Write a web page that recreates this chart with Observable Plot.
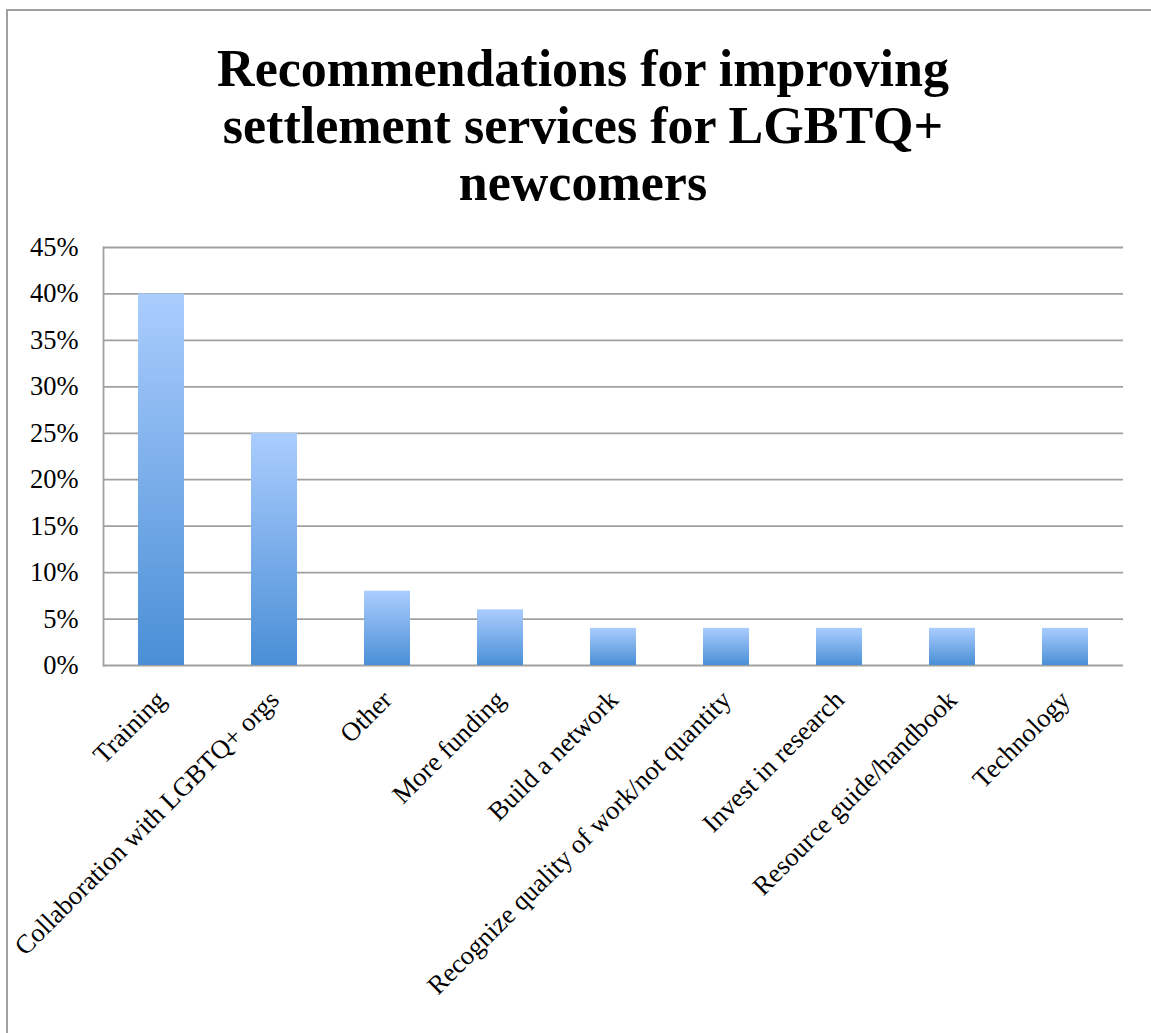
<!DOCTYPE html>
<html>
<head>
<meta charset="utf-8">
<script src="https://cdn.jsdelivr.net/npm/d3@7"></script>
<script src="https://cdn.jsdelivr.net/npm/@observablehq/plot@0.6"></script>
<style>
  html, body { margin: 0; padding: 0; background: #fff; }
  #frame {
    position: absolute; left: 6px; top: 9px; width: 1145px; height: 1024px;
    border-left: 2px solid #a0a0a0; border-top: 2px solid #a0a0a0;
    box-sizing: border-box;
  }
  #title {
    position: absolute; left: 0; top: 40px; width: 1166px;
    text-align: center;
    font-family: "Liberation Serif", serif; font-weight: bold;
    font-size: 52px; line-height: 57px; color: #000;
  }
  #chart { position: absolute; left: 0; top: 230px; }
  #chart svg { overflow: visible; }
</style>
</head>
<body>
<div id="frame"></div>
<div id="title">Recommendations for improving<br>settlement services for LGBTQ+<br>newcomers</div>
<div id="chart"></div>
<script>
const categories = [
  "Training",
  "Collaboration with LGBTQ+ orgs",
  "Other",
  "More funding",
  "Build a network",
  "Recognize quality of work/not quantity",
  "Invest in research",
  "Resource guide/handbook",
  "Technology"
];
const values = [0.40, 0.25, 0.08, 0.06, 0.04, 0.04, 0.04, 0.04, 0.04];
const yTicks = [0, 0.05, 0.10, 0.15, 0.20, 0.25, 0.30, 0.35, 0.40, 0.45];

const data = categories.map((c, i) => ({category: c, value: values[i]}));

const chart = Plot.plot({
  width: 1151,
  height: 800,
  marginTop: 17,
  marginLeft: 103,
  marginRight: 28,
  marginBottom: 365,
  style: {fontFamily: "Liberation Serif, serif", fontSize: "26.5px", color: "#000", background: "transparent"},
  x: {domain: categories, paddingInner: 0.59, paddingOuter: 0.295, label: null, tickSize: 0, tickPadding: 30, tickRotate: -45},
  y: {domain: [0, 0.45], ticks: yTicks, tickFormat: d => Math.round(d * 100) + "%", label: null, tickSize: 0, tickPadding: 25},
  marks: [
    Plot.ruleY(yTicks, {stroke: "#a0a0a0", strokeWidth: 1.8, strokeOpacity: 1}),
    Plot.frame({anchor: "left", stroke: "#a0a0a0", strokeWidth: 1.8, strokeOpacity: 1}),
    Plot.barY(data, {x: "category", y: "value", fill: "url(#barGrad)", style: "filter: drop-shadow(1px 1px 1.5px rgba(0,0,0,0.35))"})
  ]
});

// gradient definition for the bars (per-bar, top light to bottom darker)
const ns = "http://www.w3.org/2000/svg";
const defs = document.createElementNS(ns, "defs");
const grad = document.createElementNS(ns, "linearGradient");
grad.setAttribute("id", "barGrad");
grad.setAttribute("x1", "0"); grad.setAttribute("y1", "0");
grad.setAttribute("x2", "0"); grad.setAttribute("y2", "1");
[["0%", "#abcdfe"], ["100%", "#4a8fd6"]].forEach(([o, c]) => {
  const s = document.createElementNS(ns, "stop");
  s.setAttribute("offset", o); s.setAttribute("stop-color", c);
  grad.appendChild(s);
});
defs.appendChild(grad);
chart.insertBefore(defs, chart.firstChild);

document.getElementById("chart").appendChild(chart);
</script>
</body>
</html>
